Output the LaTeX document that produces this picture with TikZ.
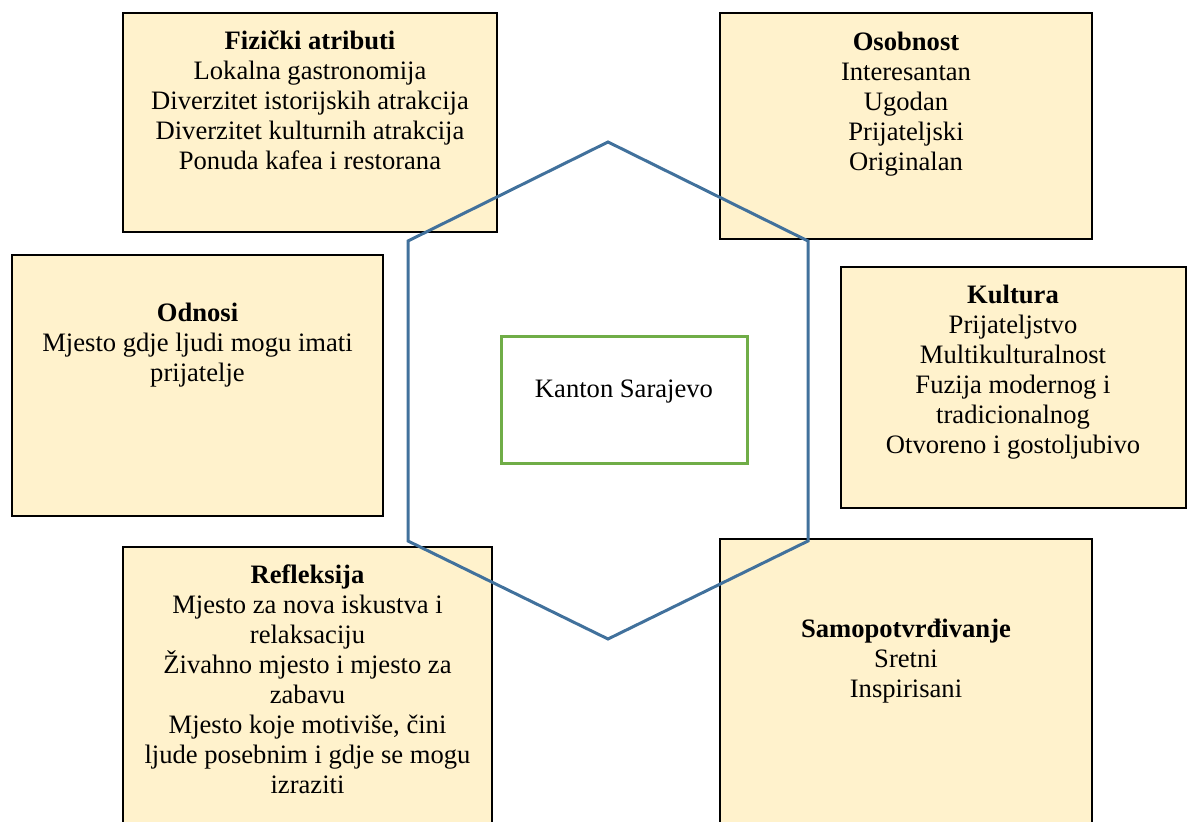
\documentclass[tikz,border=0pt]{standalone}
\usepackage{fontspec}
\setmainfont{Liberation Serif}
\definecolor{boxfill}{HTML}{FFF2CC}
\definecolor{hexblue}{HTML}{41719C}
\definecolor{coregreen}{HTML}{70AD47}
\tikzset{
  attrbox/.style={rectangle, draw=black, line width=1pt, fill=boxfill, inner sep=0pt},
  attrtext/.style={align=center, inner sep=0pt, anchor=north,
    font=\fontsize{13.3}{15}\selectfont},
  corebox/.style={rectangle, draw=coregreen, line width=1.5pt, inner sep=0pt},
  hexline/.style={draw=hexblue, line width=1.5pt, line join=miter}
}
\begin{document}
\begin{tikzpicture}[x=0.5pt, y=-0.5pt]
\useasboundingbox (0,0) rectangle (1188,822);

% attribute boxes
\node[attrbox, minimum width=187pt,   minimum height=109.5pt] (fizicki)  at (310,122.5)   {};
\node[attrbox, minimum width=186pt,   minimum height=113pt]   (osobnost) at (906,126)     {};
\node[attrbox, minimum width=185.5pt, minimum height=130.5pt] (odnosi)   at (197.5,385.5) {};
\node[attrbox, minimum width=172.5pt, minimum height=120.5pt] (kultura)  at (1013.5,387.5) {};
\node[attrbox, minimum width=184.5pt, minimum height=146.5pt] (refleks)  at (307.5,693.5) {};
\node[attrbox, minimum width=186pt,   minimum height=150.5pt] (samopot)  at (906,689.5)   {};

% hexagon around the centre
\coordinate (h1) at (608,142);
\coordinate (h2) at (808,241);
\coordinate (h3) at (808,541);
\coordinate (h4) at (608,639);
\coordinate (h5) at (408,541);
\coordinate (h6) at (408,241);
\draw[hexline] (h1) -- (h2) -- (h3) -- (h4) -- (h5) -- (h6) -- cycle;

% centre
\node[corebox, minimum width=123pt, minimum height=63.5pt] (kanton) at (624,400.5) {};
\node[anchor=base, inner sep=0pt, font=\fontsize{13.3}{15}\selectfont] (kantontxt) at (624,398) {Kanton Sarajevo};

% box texts
\node[attrtext] (fizickitxt) at (310,28) {\strut\textbf{Fizički atributi}\\Lokalna gastronomija\\Diverzitet istorijskih atrakcija\\Diverzitet kulturnih atrakcija\\Ponuda kafea i restorana};
\node[attrtext] (osobnosttxt) at (906,29) {\strut\textbf{Osobnost}\\Interesantan\\Ugodan\\Prijateljski\\Originalan};
\node[attrtext] (odnositxt) at (197.5,300) {\strut\textbf{Odnosi}\\Mjesto gdje ljudi mogu imati\\prijatelje};
\node[attrtext] (kulturatxt) at (1013,282) {\strut\textbf{Kultura}\\Prijateljstvo\\Multikulturalnost\\Fuzija modernog i\\tradicionalnog\\Otvoreno i gostoljubivo};
\node[attrtext] (refleksijatxt) at (307.5,562) {\strut\textbf{Refleksija}\\Mjesto za nova iskustva i\\relaksaciju\\Živahno mjesto i mjesto za\\zabavu\\Mjesto koje motiviše, čini\\ljude posebnim i gdje se mogu\\izraziti};
\node[attrtext] (samopottxt) at (906,616) {\strut\textbf{Samopotvrđivanje}\\Sretni\\Inspirisani};
\end{tikzpicture}
\end{document}
